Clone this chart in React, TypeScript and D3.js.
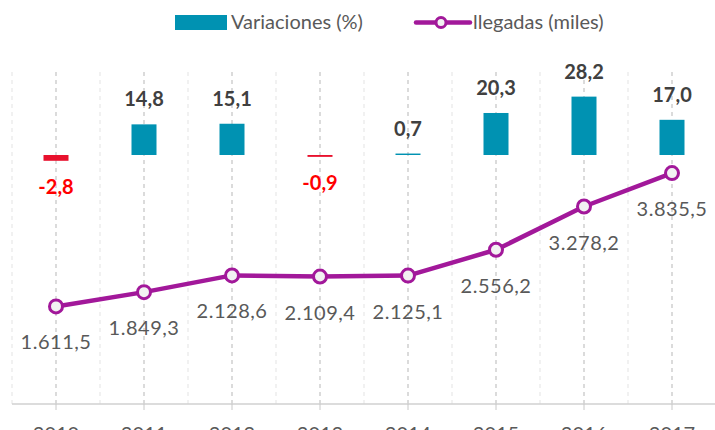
import React from "react";
import * as d3 from "d3";

const years = ["2010", "2011", "2012", "2013", "2014", "2015", "2016", "2017"];
const variaciones = [-2.8, 14.8, 15.1, -0.9, 0.7, 20.3, 28.2, 17.0];
const llegadas = [1611.5, 1849.3, 2128.6, 2109.4, 2125.1, 2556.2, 3278.2, 3835.5];
const legendLabels = ["Variaciones (%)", "llegadas (miles)"];

const W = 715;
const H = 430;
const TEAL = "#0092B2";
const RED_BAR = "#E8112D";
const RED_TXT = "#FF0000";
const PURPLE = "#A2189A";
const GRAY = "#595959";
const DARK = "#404040";
const FONT = "Lato, 'Open Sans', sans-serif";

const fmt = (v: number, thousands: boolean) => {
  const s = d3.format(thousands ? ",.1f" : ".1f")(v);
  return s
    .replace(/\u2212/g, "-")
    .replace(/,/g, "#")
    .replace(/\./g, ",")
    .replace(/#/g, ".");
};

export default function App() {
  const x = d3.scaleBand<string>().domain(years).range([12, 716]).padding(0);
  const cx = (y: string) => (x(y) as number) + x.bandwidth() / 2;
  const axisY = 404;
  const yBar = d3.scaleLinear().domain([0, 30]).range([155, 155 - 62.1]);
  const yLine = d3.scaleLinear().domain([0, 4000]).range([403, 403 - 239.76]);
  const barW = 25;

  const line = d3
    .line<number>()
    .x((_, i) => cx(years[i]))
    .y((d) => yLine(d));

  const boundaries = years.map((y) => x(y) as number);

  return (
    <svg
      width={W}
      height={H}
      style={{ position: "absolute", left: 0, top: 0, display: "block", background: "#fff" }}
      fontFamily={FONT}
    >
      {/* gridlines */}
      {boundaries.map((b, i) => (
        <line key={"b" + i} x1={b} x2={b} y1={72} y2={axisY} stroke="#E3E3E3" strokeWidth={1} strokeDasharray="4,4" />
      ))}
      {years.map((y) => (
        <line key={"g" + y} x1={cx(y)} x2={cx(y)} y1={72} y2={axisY} stroke="#C8C8C8" strokeWidth={1.3} strokeDasharray="4,4" />
      ))}
      {/* axis */}
      <line x1={12} x2={W} y1={axisY} y2={axisY} stroke="#D0D0D0" strokeWidth={1.5} />
      {years.map((y) => (
        <line key={"t" + y} x1={cx(y)} x2={cx(y)} y1={axisY} y2={axisY + 6} stroke="#C8C8C8" strokeWidth={1} />
      ))}
      {years.map((y) => (
        <text key={"yl" + y} x={cx(y)} y={441} textAnchor="middle" fontSize={20} fill={GRAY}>
          {y}
        </text>
      ))}
      {/* bars */}
      {variaciones.map((v, i) => {
        const y0 = yBar(0);
        const y1 = yBar(v);
        const h = Math.max(Math.abs(y1 - y0), 1.4);
        return (
          <rect key={"bar" + i} x={cx(years[i]) - barW / 2} y={v >= 0 ? y0 - h : y0} width={barW} height={h} fill={v < 0 ? RED_BAR : TEAL} />
        );
      })}
      {variaciones.map((v, i) => {
        const y0 = yBar(0);
        const y1 = yBar(v);
        const neg = v < 0;
        const by = neg ? Math.max(y1, y0 + 1.4) + 33 : Math.min(y1, y0 - 1.4) - 18;
        return (
          <text key={"bl" + i} x={cx(years[i])} y={by} textAnchor="middle" fontSize={20} fontWeight={700} fill={neg ? RED_TXT : DARK}>
            {fmt(v, false)}
          </text>
        );
      })}
      {/* line */}
      <path d={line(llegadas) || ""} fill="none" stroke={PURPLE} strokeWidth={4.5} strokeLinejoin="round" />
      {llegadas.map((v, i) => (
        <circle key={"c" + i} cx={cx(years[i])} cy={yLine(v)} r={6.5} fill="#F2F2F2" stroke={PURPLE} strokeWidth={3} />
      ))}
      {llegadas.map((v, i) => (
        <text key={"ll" + i} x={cx(years[i])} y={yLine(v) + 43} textAnchor="middle" fontSize={20} fill={GRAY} letterSpacing={0.5}>
          {fmt(v, true)}
        </text>
      ))}
      {/* legend */}
      <rect x={175} y={15} width={52} height={15} fill={TEAL} />
      <text x={231} y={29} fontSize={20} fill={GRAY}>
        {legendLabels[0]}
      </text>
      <line x1={416} x2={470} y1={22.5} y2={22.5} stroke={PURPLE} strokeWidth={4.5} strokeLinecap="round" />
      <circle cx={441} cy={22.5} r={5} fill="#F2F2F2" stroke={PURPLE} strokeWidth={3} />
      <text x={473} y={29} fontSize={20} fill={GRAY}>
        {legendLabels[1]}
      </text>
    </svg>
  );
}
